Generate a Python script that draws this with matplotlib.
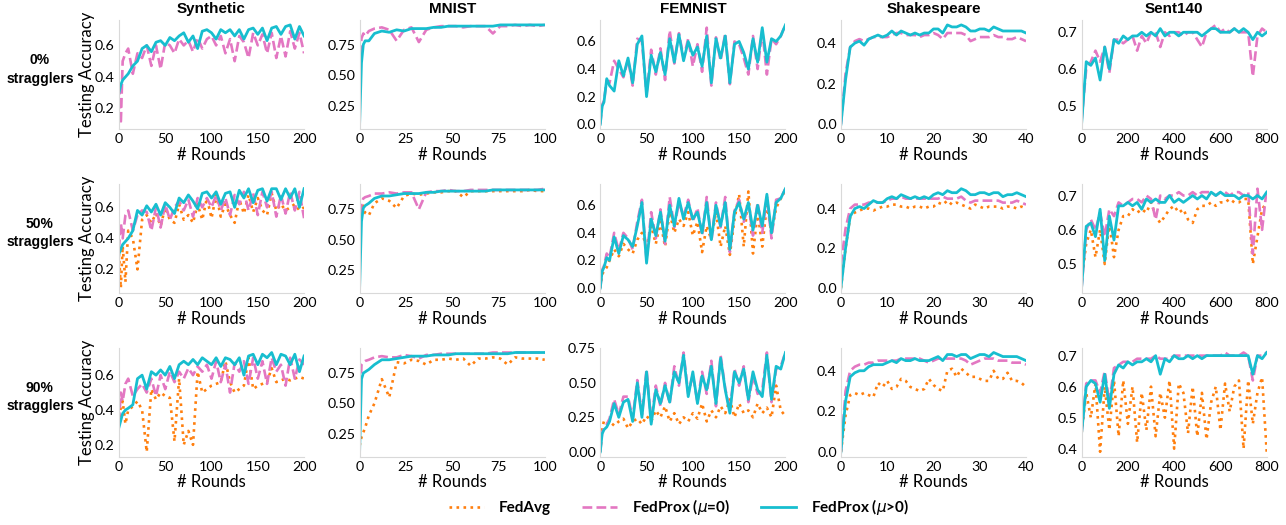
import numpy as np
import matplotlib
matplotlib.use("Agg")
import matplotlib.pyplot as plt
from matplotlib.lines import Line2D

datasets = ["Synthetic", "MNIST", "FEMNIST", "Shakespeare", "Sent140"]
row_labels = ["0%\nstragglers", "50%\nstragglers", "90%\nstragglers"]
legend_labels = ["FedAvg", "FedProx ($\\mu$=0)", "FedProx ($\\mu$>0)"]

syn_x = np.r_[0, 2, 4, 7, np.arange(10, 201, 5)]
mn_x = np.r_[0, 1, 2, 3, 5, np.arange(8, 101, 4)]
fe_x = np.r_[0, 2, 4, 7, np.arange(10, 201, 5)]
sh_x = np.arange(0, 41)
se_x = np.arange(0, 801, 20)

# ---- Synthetic ----
syn_prox_0 = [0.30, 0.35, 0.38, 0.40, 0.42, 0.47, 0.50, 0.58, 0.60, 0.56, 0.62, 0.63, 0.60, 0.65, 0.63,
              0.66, 0.68, 0.62, 0.66, 0.58, 0.69, 0.70, 0.68, 0.64, 0.70, 0.68, 0.70, 0.66, 0.70, 0.64,
              0.70, 0.71, 0.67, 0.71, 0.63, 0.71, 0.72, 0.67, 0.72, 0.73, 0.64, 0.72, 0.66]
syn_mu0_0 = [0.35, 0.10, 0.50, 0.55, 0.58, 0.42, 0.55, 0.52, 0.60, 0.47, 0.60, 0.45, 0.62, 0.60, 0.55,
             0.64, 0.60, 0.63, 0.56, 0.65, 0.58, 0.64, 0.66, 0.60, 0.66, 0.55, 0.64, 0.50, 0.66, 0.62,
             0.52, 0.68, 0.60, 0.67, 0.55, 0.68, 0.52, 0.66, 0.53, 0.69, 0.58, 0.68, 0.55]
syn_prox_50 = [0.30, 0.33, 0.36, 0.38, 0.40, 0.45, 0.58, 0.55, 0.61, 0.57, 0.62, 0.55, 0.63, 0.60, 0.56,
               0.66, 0.63, 0.68, 0.64, 0.59, 0.69, 0.70, 0.66, 0.70, 0.62, 0.69, 0.70, 0.60, 0.71, 0.66,
               0.72, 0.63, 0.71, 0.72, 0.64, 0.72, 0.72, 0.65, 0.72, 0.66, 0.72, 0.60, 0.72]
syn_mu0_50 = [0.33, 0.50, 0.40, 0.55, 0.58, 0.45, 0.55, 0.58, 0.57, 0.45, 0.60, 0.47, 0.62, 0.52, 0.60,
              0.64, 0.58, 0.65, 0.54, 0.66, 0.60, 0.66, 0.60, 0.68, 0.58, 0.66, 0.55, 0.68, 0.62, 0.70,
              0.58, 0.69, 0.55, 0.70, 0.60, 0.70, 0.54, 0.68, 0.56, 0.70, 0.58, 0.70, 0.53]
syn_avg_50 = [0.30, 0.08, 0.35, 0.12, 0.45, 0.40, 0.20, 0.52, 0.55, 0.50, 0.56, 0.48, 0.60, 0.52, 0.50,
              0.62, 0.52, 0.55, 0.50, 0.62, 0.52, 0.66, 0.53, 0.68, 0.54, 0.62, 0.55, 0.50, 0.65, 0.56,
              0.68, 0.57, 0.66, 0.58, 0.55, 0.69, 0.58, 0.62, 0.58, 0.60, 0.62, 0.58, 0.60]
syn_prox_90 = [0.30, 0.34, 0.38, 0.40, 0.41, 0.43, 0.58, 0.60, 0.52, 0.62, 0.60, 0.63, 0.60, 0.65, 0.58,
               0.66, 0.68, 0.66, 0.69, 0.66, 0.70, 0.68, 0.66, 0.70, 0.65, 0.70, 0.69, 0.66, 0.70, 0.60,
               0.71, 0.72, 0.66, 0.72, 0.70, 0.73, 0.66, 0.72, 0.71, 0.66, 0.72, 0.62, 0.71]
syn_mu0_90 = [0.33, 0.50, 0.45, 0.55, 0.58, 0.48, 0.52, 0.55, 0.50, 0.58, 0.48, 0.60, 0.52, 0.62, 0.56,
              0.62, 0.58, 0.64, 0.60, 0.65, 0.62, 0.66, 0.58, 0.68, 0.56, 0.66, 0.50, 0.67, 0.62, 0.68,
              0.55, 0.70, 0.58, 0.68, 0.55, 0.70, 0.62, 0.66, 0.54, 0.70, 0.58, 0.69, 0.66]
syn_avg_90 = [0.32, 0.42, 0.45, 0.32, 0.40, 0.42, 0.45, 0.40, 0.16, 0.52, 0.46, 0.50, 0.48, 0.47, 0.22,
              0.58, 0.20, 0.28, 0.20, 0.62, 0.50, 0.52, 0.54, 0.55, 0.56, 0.68, 0.56, 0.50, 0.52, 0.54,
              0.70, 0.52, 0.54, 0.55, 0.56, 0.64, 0.56, 0.57, 0.58, 0.57, 0.58, 0.59, 0.58]

# ---- MNIST ----
mn_prox_0 = [0.10, 0.60, 0.75, 0.78, 0.78, 0.84, 0.86, 0.85, 0.87, 0.86, 0.88, 0.88, 0.88, 0.89, 0.89,
             0.90, 0.90, 0.90, 0.90, 0.90, 0.90, 0.90, 0.91, 0.91, 0.91, 0.91, 0.91, 0.91, 0.91]
mn_mu0_0 = [0.55, 0.80, 0.84, 0.82, 0.86, 0.88, 0.89, 0.87, 0.78, 0.87, 0.89, 0.77, 0.87, 0.89, 0.90,
            0.90, 0.90, 0.89, 0.90, 0.90, 0.90, 0.84, 0.90, 0.90, 0.91, 0.90, 0.91, 0.90, 0.91]
mn_prox_50 = [0.10, 0.65, 0.76, 0.78, 0.80, 0.84, 0.86, 0.86, 0.87, 0.88, 0.88, 0.88, 0.89, 0.89, 0.90,
              0.90, 0.90, 0.90, 0.90, 0.90, 0.90, 0.91, 0.91, 0.91, 0.91, 0.91, 0.91, 0.91, 0.91]
mn_mu0_50 = [0.60, 0.80, 0.84, 0.85, 0.86, 0.88, 0.88, 0.89, 0.88, 0.89, 0.89, 0.75, 0.89, 0.90, 0.90,
             0.91, 0.90, 0.90, 0.91, 0.91, 0.91, 0.91, 0.91, 0.91, 0.91, 0.91, 0.91, 0.91, 0.92]
mn_avg_50 = [0.60, 0.75, 0.78, 0.72, 0.70, 0.80, 0.84, 0.82, 0.76, 0.86, 0.88, 0.87, 0.88, 0.89, 0.89,
             0.90, 0.90, 0.85, 0.90, 0.90, 0.90, 0.90, 0.90, 0.90, 0.90, 0.90, 0.91, 0.90, 0.90]
mn_prox_90 = [0.10, 0.70, 0.75, 0.76, 0.78, 0.82, 0.86, 0.86, 0.87, 0.88, 0.89, 0.89, 0.89, 0.90, 0.90,
              0.90, 0.91, 0.91, 0.91, 0.91, 0.91, 0.91, 0.91, 0.91, 0.92, 0.92, 0.92, 0.92, 0.92]
mn_mu0_90 = [0.40, 0.82, 0.84, 0.85, 0.86, 0.88, 0.89, 0.88, 0.88, 0.90, 0.89, 0.87, 0.90, 0.90, 0.91,
             0.91, 0.91, 0.91, 0.91, 0.91, 0.91, 0.92, 0.92, 0.92, 0.92, 0.92, 0.92, 0.92, 0.92]
mn_avg_90 = [0.15, 0.22, 0.26, 0.30, 0.40, 0.50, 0.70, 0.55, 0.84, 0.83, 0.86, 0.85, 0.82, 0.86, 0.86,
             0.87, 0.86, 0.87, 0.81, 0.87, 0.87, 0.88, 0.87, 0.82, 0.88, 0.87, 0.87, 0.87, 0.86]

# ---- FEMNIST ----
fe_prox_0 = [0.00, 0.13, 0.16, 0.33, 0.28, 0.24, 0.46, 0.35, 0.48, 0.30, 0.58, 0.64, 0.20, 0.50, 0.38,
             0.52, 0.36, 0.62, 0.45, 0.65, 0.46, 0.60, 0.50, 0.56, 0.42, 0.64, 0.30, 0.62, 0.48, 0.64,
             0.30, 0.58, 0.60, 0.52, 0.40, 0.62, 0.45, 0.70, 0.45, 0.62, 0.60, 0.64, 0.72]
fe_mu0_0 = [0.00, 0.14, 0.17, 0.32, 0.30, 0.46, 0.40, 0.34, 0.47, 0.28, 0.62, 0.60, 0.22, 0.54, 0.36,
            0.55, 0.32, 0.68, 0.44, 0.66, 0.48, 0.62, 0.42, 0.58, 0.38, 0.70, 0.28, 0.63, 0.46, 0.66,
            0.29, 0.60, 0.58, 0.48, 0.36, 0.64, 0.40, 0.68, 0.36, 0.62, 0.58, 0.64, 0.72]
fe_prox_50 = [0.00, 0.12, 0.15, 0.22, 0.20, 0.37, 0.25, 0.38, 0.35, 0.30, 0.45, 0.62, 0.18, 0.50, 0.38,
              0.55, 0.34, 0.60, 0.45, 0.65, 0.50, 0.62, 0.50, 0.55, 0.40, 0.62, 0.35, 0.60, 0.45, 0.62,
              0.28, 0.55, 0.62, 0.50, 0.62, 0.42, 0.60, 0.45, 0.68, 0.40, 0.62, 0.65, 0.72]
fe_mu0_50 = [0.00, 0.13, 0.16, 0.25, 0.22, 0.40, 0.27, 0.40, 0.36, 0.28, 0.48, 0.64, 0.20, 0.55, 0.36,
             0.57, 0.32, 0.66, 0.44, 0.62, 0.52, 0.64, 0.48, 0.58, 0.38, 0.66, 0.34, 0.62, 0.44, 0.66,
             0.26, 0.56, 0.64, 0.48, 0.60, 0.38, 0.62, 0.40, 0.66, 0.36, 0.64, 0.65, 0.72]
fe_avg_50 = [0.00, 0.10, 0.12, 0.15, 0.20, 0.28, 0.23, 0.32, 0.28, 0.25, 0.35, 0.40, 0.30, 0.45, 0.32,
             0.48, 0.30, 0.55, 0.40, 0.50, 0.45, 0.55, 0.38, 0.48, 0.26, 0.45, 0.35, 0.55, 0.30, 0.45,
             0.24, 0.50, 0.68, 0.30, 0.70, 0.25, 0.55, 0.30, 0.60, 0.40, 0.58, 0.65, 0.70]
fe_prox_90 = [0.00, 0.13, 0.16, 0.18, 0.22, 0.35, 0.25, 0.36, 0.38, 0.22, 0.50, 0.25, 0.58, 0.20, 0.45,
              0.35, 0.48, 0.36, 0.58, 0.50, 0.70, 0.40, 0.58, 0.35, 0.55, 0.45, 0.62, 0.35, 0.68, 0.45,
              0.28, 0.58, 0.50, 0.60, 0.38, 0.58, 0.45, 0.40, 0.70, 0.38, 0.62, 0.60, 0.72]
fe_mu0_90 = [0.00, 0.14, 0.17, 0.20, 0.24, 0.38, 0.27, 0.40, 0.40, 0.24, 0.52, 0.27, 0.60, 0.22, 0.48,
             0.33, 0.50, 0.35, 0.62, 0.48, 0.72, 0.42, 0.56, 0.36, 0.58, 0.42, 0.66, 0.33, 0.70, 0.46,
             0.30, 0.60, 0.48, 0.62, 0.36, 0.55, 0.42, 0.45, 0.72, 0.36, 0.60, 0.62, 0.72]
fe_avg_90 = [0.00, 0.18, 0.22, 0.20, 0.22, 0.19, 0.22, 0.24, 0.17, 0.22, 0.24, 0.20, 0.26, 0.22, 0.30,
             0.25, 0.33, 0.22, 0.28, 0.20, 0.25, 0.22, 0.28, 0.24, 0.35, 0.22, 0.30, 0.25, 0.33, 0.28,
             0.38, 0.25, 0.35, 0.28, 0.30, 0.25, 0.35, 0.28, 0.32, 0.25, 0.48, 0.30, 0.26]

# ---- Shakespeare ----
sh_prox_0 = [0.00, 0.22, 0.38, 0.40, 0.41, 0.39, 0.42, 0.43, 0.44, 0.43, 0.44, 0.46, 0.44, 0.46, 0.45,
             0.44, 0.45, 0.44, 0.45, 0.45, 0.47, 0.47, 0.45, 0.49, 0.48, 0.48, 0.49, 0.48, 0.46, 0.46,
             0.47, 0.47, 0.46, 0.48, 0.47, 0.46, 0.46, 0.46, 0.46, 0.46, 0.45]
sh_mu0_0 = [0.00, 0.25, 0.38, 0.41, 0.42, 0.41, 0.42, 0.43, 0.43, 0.43, 0.43, 0.44, 0.45, 0.45, 0.44,
            0.44, 0.44, 0.43, 0.44, 0.44, 0.45, 0.44, 0.42, 0.45, 0.45, 0.45, 0.45, 0.44, 0.41, 0.42,
            0.43, 0.43, 0.43, 0.44, 0.43, 0.43, 0.42, 0.42, 0.43, 0.42, 0.41]
sh_prox_50 = [0.00, 0.20, 0.36, 0.40, 0.41, 0.40, 0.42, 0.44, 0.43, 0.43, 0.45, 0.46, 0.45, 0.47, 0.46,
              0.45, 0.46, 0.45, 0.46, 0.45, 0.47, 0.48, 0.47, 0.49, 0.48, 0.48, 0.50, 0.49, 0.47, 0.47,
              0.48, 0.48, 0.47, 0.48, 0.48, 0.46, 0.47, 0.47, 0.48, 0.47, 0.46]
sh_mu0_50 = [0.12, 0.30, 0.40, 0.42, 0.42, 0.42, 0.43, 0.43, 0.43, 0.43, 0.44, 0.45, 0.45, 0.46, 0.45,
             0.45, 0.45, 0.45, 0.45, 0.45, 0.45, 0.45, 0.46, 0.45, 0.45, 0.45, 0.46, 0.44, 0.43, 0.44,
             0.44, 0.44, 0.44, 0.44, 0.44, 0.43, 0.43, 0.43, 0.44, 0.43, 0.42]
sh_avg_50 = [0.00, 0.20, 0.36, 0.38, 0.39, 0.40, 0.40, 0.39, 0.40, 0.41, 0.41, 0.42, 0.42, 0.41, 0.41,
             0.40, 0.41, 0.41, 0.40, 0.41, 0.41, 0.43, 0.42, 0.44, 0.42, 0.43, 0.42, 0.41, 0.40, 0.42,
             0.41, 0.40, 0.41, 0.41, 0.41, 0.40, 0.41, 0.41, 0.40, 0.41, 0.40]
sh_prox_90 = [0.00, 0.25, 0.37, 0.39, 0.40, 0.40, 0.42, 0.43, 0.43, 0.43, 0.44, 0.45, 0.44, 0.46, 0.45,
              0.45, 0.46, 0.45, 0.45, 0.45, 0.46, 0.47, 0.45, 0.48, 0.48, 0.47, 0.48, 0.48, 0.46, 0.47,
              0.48, 0.48, 0.47, 0.49, 0.48, 0.47, 0.47, 0.47, 0.47, 0.46, 0.45]
sh_mu0_90 = [0.00, 0.30, 0.40, 0.42, 0.43, 0.43, 0.44, 0.44, 0.45, 0.45, 0.45, 0.45, 0.45, 0.46, 0.46,
             0.46, 0.46, 0.46, 0.45, 0.44, 0.45, 0.46, 0.46, 0.46, 0.46, 0.46, 0.46, 0.45, 0.43, 0.44,
             0.45, 0.46, 0.46, 0.46, 0.45, 0.45, 0.45, 0.44, 0.44, 0.44, 0.43]
sh_avg_90 = [0.00, 0.18, 0.28, 0.29, 0.28, 0.29, 0.28, 0.27, 0.34, 0.32, 0.35, 0.31, 0.32, 0.36, 0.35,
             0.32, 0.31, 0.30, 0.31, 0.36, 0.33, 0.31, 0.30, 0.40, 0.41, 0.37, 0.41, 0.39, 0.37, 0.37,
             0.36, 0.35, 0.35, 0.40, 0.36, 0.36, 0.39, 0.35, 0.35, 0.34, 0.32]

# ---- Sent140 ----
se_prox_0 = [0.45, 0.62, 0.61, 0.63, 0.57, 0.66, 0.60, 0.68, 0.67, 0.69, 0.68, 0.69, 0.69, 0.70, 0.69,
             0.70, 0.69, 0.71, 0.69, 0.70, 0.70, 0.69, 0.70, 0.70, 0.70, 0.70, 0.69, 0.70, 0.71, 0.71,
             0.70, 0.70, 0.70, 0.71, 0.70, 0.71, 0.70, 0.68, 0.70, 0.69, 0.70]
se_mu0_0 = [0.46, 0.60, 0.62, 0.65, 0.62, 0.66, 0.59, 0.68, 0.68, 0.67, 0.68, 0.69, 0.65, 0.69, 0.67,
            0.70, 0.70, 0.66, 0.70, 0.69, 0.70, 0.70, 0.69, 0.70, 0.70, 0.68, 0.66, 0.70, 0.71, 0.72,
            0.70, 0.71, 0.70, 0.71, 0.70, 0.70, 0.70, 0.58, 0.69, 0.71, 0.70]
se_prox_50 = [0.43, 0.61, 0.62, 0.58, 0.66, 0.51, 0.64, 0.57, 0.67, 0.67, 0.68, 0.67, 0.68, 0.66, 0.69,
              0.68, 0.69, 0.68, 0.68, 0.70, 0.68, 0.69, 0.68, 0.69, 0.70, 0.69, 0.70, 0.69, 0.71, 0.70,
              0.71, 0.70, 0.70, 0.70, 0.69, 0.70, 0.70, 0.69, 0.70, 0.69, 0.71]
se_mu0_50 = [0.43, 0.60, 0.63, 0.60, 0.65, 0.58, 0.66, 0.64, 0.68, 0.67, 0.68, 0.69, 0.69, 0.68, 0.70,
             0.69, 0.63, 0.70, 0.69, 0.70, 0.70, 0.71, 0.70, 0.70, 0.71, 0.70, 0.71, 0.71, 0.71, 0.70,
             0.71, 0.71, 0.70, 0.71, 0.71, 0.70, 0.71, 0.53, 0.72, 0.60, 0.72]
se_avg_50 = [0.45, 0.56, 0.60, 0.52, 0.60, 0.50, 0.62, 0.52, 0.60, 0.64, 0.64, 0.66, 0.65, 0.66, 0.65,
             0.68, 0.64, 0.62, 0.64, 0.66, 0.67, 0.65, 0.66, 0.63, 0.62, 0.66, 0.67, 0.67, 0.68, 0.67,
             0.68, 0.68, 0.69, 0.68, 0.68, 0.69, 0.69, 0.50, 0.58, 0.66, 0.68]
se_prox_90 = [0.45, 0.60, 0.62, 0.61, 0.55, 0.64, 0.53, 0.64, 0.67, 0.66, 0.68, 0.67, 0.68, 0.68, 0.69,
              0.68, 0.70, 0.64, 0.69, 0.68, 0.70, 0.69, 0.69, 0.70, 0.69, 0.70, 0.69, 0.70, 0.70, 0.70,
              0.70, 0.70, 0.70, 0.70, 0.70, 0.70, 0.70, 0.64, 0.70, 0.69, 0.71]
se_mu0_90 = [0.45, 0.61, 0.62, 0.62, 0.58, 0.65, 0.55, 0.66, 0.67, 0.68, 0.68, 0.68, 0.69, 0.69, 0.69,
             0.69, 0.70, 0.69, 0.69, 0.69, 0.70, 0.70, 0.70, 0.70, 0.70, 0.70, 0.70, 0.70, 0.70, 0.70,
             0.70, 0.71, 0.70, 0.70, 0.70, 0.71, 0.70, 0.62, 0.70, 0.70, 0.71]
se_avg_90 = [0.45, 0.58, 0.50, 0.61, 0.39, 0.60, 0.46, 0.62, 0.44, 0.62, 0.48, 0.60, 0.42, 0.58, 0.46,
             0.60, 0.44, 0.58, 0.50, 0.62, 0.40, 0.61, 0.58, 0.45, 0.60, 0.44, 0.58, 0.43, 0.55, 0.60,
             0.46, 0.61, 0.52, 0.60, 0.62, 0.40, 0.62, 0.48, 0.58, 0.63, 0.39]

xs = [syn_x, mn_x, fe_x, sh_x, se_x]
# per row, per dataset: (FedAvg or None, FedProx mu=0, FedProx mu>0)
series = [
    [(None, syn_mu0_0, syn_prox_0), (None, mn_mu0_0, mn_prox_0), (None, fe_mu0_0, fe_prox_0),
     (None, sh_mu0_0, sh_prox_0), (None, se_mu0_0, se_prox_0)],
    [(syn_avg_50, syn_mu0_50, syn_prox_50), (mn_avg_50, mn_mu0_50, mn_prox_50),
     (fe_avg_50, fe_mu0_50, fe_prox_50), (sh_avg_50, sh_mu0_50, sh_prox_50),
     (se_avg_50, se_mu0_50, se_prox_50)],
    [(syn_avg_90, syn_mu0_90, syn_prox_90), (mn_avg_90, mn_mu0_90, mn_prox_90),
     (fe_avg_90, fe_mu0_90, fe_prox_90), (sh_avg_90, sh_mu0_90, sh_prox_90),
     (se_avg_90, se_mu0_90, se_prox_90)],
]

xticks = [[0, 50, 100, 150, 200], [0, 25, 50, 75, 100], [0, 50, 100, 150, 200],
          [0, 10, 20, 30, 40], [0, 200, 400, 600, 800]]
yticks = [
    [[0.2, 0.4, 0.6], [0.25, 0.5, 0.75], [0, 0.2, 0.4, 0.6], [0, 0.2, 0.4], [0.5, 0.6, 0.7]],
    [[0.2, 0.4, 0.6], [0.25, 0.5, 0.75], [0, 0.2, 0.4, 0.6], [0, 0.2, 0.4], [0.5, 0.6, 0.7]],
    [[0.2, 0.4, 0.6], [0.25, 0.5, 0.75], [0, 0.25, 0.5, 0.75], [0, 0.2, 0.4], [0.4, 0.5, 0.6, 0.7]],
]

c_avg, c_mu0, c_prox = "#ff7f0e", "#e377c2", "#17becf"
tick_font = "Lato"
bold_font = "Liberation Sans"

fig, axes = plt.subplots(3, 5, figsize=(12.86, 5.25), dpi=100)
fig.subplots_adjust(left=0.0925, right=0.985, top=0.962, bottom=0.13, wspace=0.30, hspace=0.5)

for r in range(3):
    for c in range(5):
        ax = axes[r, c]
        x = xs[c]
        avg, mu0, prox = series[r][c]
        if avg is not None:
            ax.plot(x, avg, color=c_avg, ls=":", lw=1.9)
        ax.plot(x, mu0, color=c_mu0, ls="--", lw=1.9)
        ax.plot(x, prox, color=c_prox, ls="-", lw=2.0)
        ax.set_xlim(x[0], x[-1])
        ax.set_xticks(xticks[c])
        ax.set_yticks(yticks[r][c])
        for s in ["top", "right"]:
            ax.spines[s].set_visible(False)
        for s in ["left", "bottom"]:
            ax.spines[s].set_color("#d9d9d9")
        ax.tick_params(length=0, labelsize=10.3, pad=3)
        for lab in ax.get_xticklabels() + ax.get_yticklabels():
            lab.set_family(tick_font)
        ax.set_xlabel("# Rounds", fontsize=12, family=tick_font, labelpad=1)
        if c == 0:
            ax.set_ylabel("Testing Accuracy", fontsize=12, family=tick_font, labelpad=0)
        if r == 0:
            ax.set_title(datasets[c], fontsize=11, fontweight="bold", family=bold_font, pad=5)

for r in range(3):
    pos = axes[r, 0].get_position()
    fig.text(0.031, (pos.y0 + pos.y1) / 2 + 0.01, row_labels[r], ha="center", va="center",
             fontsize=10, fontweight="bold", family=bold_font, linespacing=1.4)

handles = [Line2D([], [], color=c_avg, ls=":", lw=1.9),
           Line2D([], [], color=c_mu0, ls="--", lw=1.9),
           Line2D([], [], color=c_prox, ls="-", lw=2.0)]
fig.legend(handles, legend_labels, loc="center", bbox_to_anchor=(0.528, 0.034), ncol=3,
           frameon=False, handlelength=2.3, columnspacing=2.0, handletextpad=1.0,
           prop={"family": tick_font, "weight": "bold", "size": 11})

fig.savefig("out.png", dpi=100)
